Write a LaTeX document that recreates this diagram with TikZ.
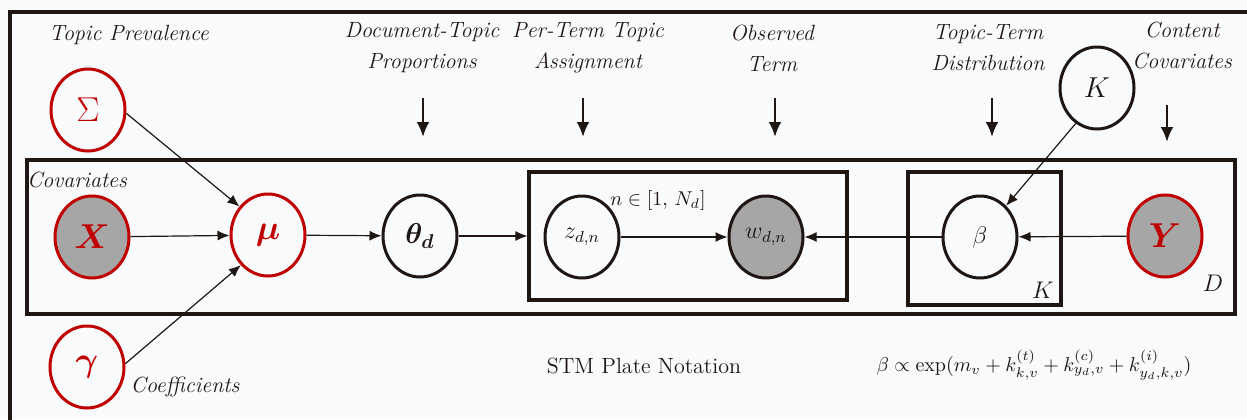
\documentclass[tikz,border=0pt]{standalone}
\usepackage{amsmath,bm}
\usetikzlibrary{arrows.meta,shapes.geometric}
\definecolor{dred}{RGB}{192,0,0}
\definecolor{gfill}{RGB}{166,166,166}
\definecolor{bg}{RGB}{249,250,252}
\definecolor{ink}{RGB}{30,22,18}
\begin{document}
\begin{tikzpicture}[x=0.5pt,y=-0.5pt,
  var/.style={ellipse, draw=ink, line width=1.5pt, minimum width=37pt, minimum height=41pt, inner sep=0pt, font=\Large, text=ink},
  rvar/.style={var, draw=dred, text=dred, font=\LARGE},
  obs/.style={fill=gfill},
  plate/.style={draw=ink, line width=1.6pt, inner sep=0pt},
  lbl/.style={font=\itshape\fontsize{11}{15.5}\selectfont, text=ink, align=center},
  edge/.style={-{Latex[length=6pt,width=5pt]}, line width=0.6pt, draw=ink},
  down/.style={-{Latex[length=7.5pt,width=6.5pt]}, line width=1.4pt, draw=ink}]
\useasboundingbox (0,0) rectangle (1247,419);
\fill[bg] (0,0) rectangle (1247,419);
\begin{scope}
  \clip (0,0) rectangle (1247,419);
  \draw[ink, line width=1.6pt] (10,12) rectangle (1300,500);
\end{scope}

% plates
\node[plate, minimum width=604pt, minimum height=77pt] (dplate) at (631,237) {};
\node[plate, minimum width=159pt, minimum height=64pt] (nplate) at (688,236) {};
\node[plate, minimum width=76.5pt, minimum height=66.5pt] (kplate) at (984.5,238.5) {};

% variables
\node[rvar] (Sigma) at (88,110) {$\Sigma$};
\node[rvar, obs] (X) at (92,237) {$\bm{X}$};
\node[rvar] (mu) at (268,235) {$\bm{\mu}$};
\node[rvar] (gamma) at (87,367) {$\bm{\gamma}$};
\node[var] (theta) at (420,236) {$\bm{\theta_d}$};
\node[var, font=\large] (z) at (582,237) {$z_{d,n}$};
\node[var, obs, font=\large] (w) at (766,237) {$w_{d,n}$};
\node[var, font=\large] (beta) at (980,237) {$\beta$};
\node[rvar, obs] (Y) at (1165,236) {$\bm{Y}$};
\node[var] (K) at (1097,88) {$K$};

% labels
\node[lbl] (lTP) at (129,35) {Topic Prevalence};
\node[lbl] (lDT) at (422,48) {Document-Topic\\Proportions};
\node[lbl] (lPT) at (588,48) {Per-Term Topic\\Assignment};
\node[lbl] (lOT) at (772,48) {Observed\\Term};
\node[lbl] (lTT) at (988,48) {Topic-Term\\Distribution};
\node[lbl] (lCC) at (1182,45) {Content\\Covariates};
\node[lbl] (lCov) at (77,180) {Covariates};
\node[lbl] (lCoef) at (185,387) {Coefficients};
\node[text=ink, font=\normalsize] (lN) at (658,200) {$n \in [1,\, N_d]$};
\node[text=ink, font=\large] (lK) at (1043,290) {$K$};
\node[text=ink, font=\large] (lD) at (1213,283) {$D$};
\node[text=ink, font=\fontsize{11}{13}\selectfont] (lSTM) at (644,366) {STM Plate Notation};
\node[text=ink, font=\normalsize] (lF) at (1034,365) {$\beta \propto \exp(m_v + k^{(t)}_{k,v} + k^{(c)}_{y_d,v} + k^{(i)}_{y_d,k,v})$};

% down arrows
\coordinate (d1s) at (423,98); \coordinate (d1e) at (423,137);
\coordinate (d2s) at (583,98); \coordinate (d2e) at (583,137);
\coordinate (d3s) at (775,98); \coordinate (d3e) at (775,137);
\coordinate (d4s) at (992,98); \coordinate (d4e) at (992,137);
\coordinate (d5s) at (1167,105); \coordinate (d5e) at (1167,142);
\draw[down] (d1s) -- (d1e);
\draw[down] (d2s) -- (d2e);
\draw[down] (d3s) -- (d3e);
\draw[down] (d4s) -- (d4e);
\draw[down] (d5s) -- (d5e);

% edges
\draw[edge] (Sigma.-5) -- (mu.135);
\draw[edge] (X) -- (mu);
\draw[edge] (gamma.5) -- (mu.228);
\draw[edge] (mu) -- (theta);
\draw[edge] (theta) -- (theta -| nplate.west);
\draw[edge] (z) -- (w);
\draw[edge] (beta) -- (w);
\draw[edge] (Y) -- (beta);
\draw[edge] (K.239) -- (beta.50);
\end{tikzpicture}
\end{document}
